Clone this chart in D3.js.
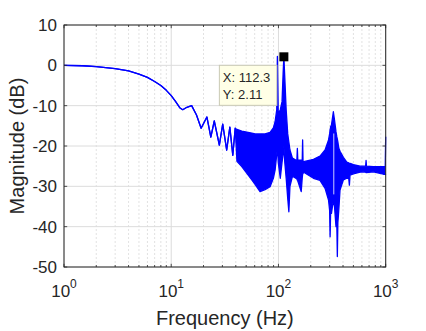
<!DOCTYPE html>
<html>
<head>
<meta charset="utf-8">
<script src="https://cdn.jsdelivr.net/npm/d3@7"></script>
<style>
    body { margin: 0; background: #ffffff; }
    text { font-family: "Liberation Sans", Arial, sans-serif; fill: #262626; }
</style>
</head>
<body>
<svg id="bode_plot" width="426" height="331"></svg>
<script>
// frequency response (Hz, dB); high == low where the trace is a single line
const freqHz = [1, 1.5, 2, 3, 4, 5, 6, 7, 8, 9, 10, 11, 12, 12.8, 14, 15.5, 17.2, 19, 21.5, 23.4, 25.2, 28.1, 30.2, 32.9,
                35.2, 37.5, 39.5, 41, 45.5, 56.4, 60.5, 67.3, 75, 83.5, 89.6, 93, 96.4, 97.2, 97.7, 98.3, 99.5, 104, 108, 110.5, 112.3,
                114.5, 118, 122, 125, 128, 135, 145, 148.5, 150, 151.5, 163, 166.5, 168, 169.5,
                172, 212, 244, 272, 293, 300, 303, 307, 312, 325, 333, 344, 350, 354, 358, 365, 375, 403,
                433.6, 452, 458.5, 465, 500, 577, 620, 650, 656, 662, 768, 952, 990, 1000];

const magHigh = [0, -0.1, -0.3, -0.8, -1.4, -2.2, -3.0, -4.0, -5.0, -6.2, -7.5, -9.0, -10.5, -11.0, -10.4, -10.0, -12.3, -15.6, -12.8, -17.8, -13.8, -19.8, -14.6, -21.0,
                 -15.3, -22.3, -15.6, -15.9, -16.3, -16.8, -17.0, -17.0, -17.0, -16.6, -15.5, -14.0, -11.0, -2.0, 2.2, -3.0, -12.0, -11.0, -9.0, -2.0, 2.11,
                 -3.0, -11.0, -17.0, -19.0, -21.0, -23.0, -23.5, -23.5, -20.6, -23.5, -23.5, -23.7, -18.5, -23.8,
                 -23.9, -23.3, -22.5, -21.0, -18.5, -17.0, -16.0, -15.2, -14.8, -11.5, -13.5, -16.5, -17.7, -18.3, -19.0, -20.5, -21.3, -22.8,
                 -24.0, -24.2, -24.3, -24.3, -24.6, -25.0, -25.0, -25.0, -23.6, -25.0, -25.1, -25.1, -25.1, -17.7];

const magLow  = [0, -0.1, -0.3, -0.8, -1.4, -2.2, -3.0, -4.0, -5.0, -6.2, -7.5, -9.0, -10.5, -11.0, -10.4, -10.0, -12.3, -15.6, -12.8, -17.8, -13.8, -19.8, -14.6, -21.0,
                 -15.3, -22.3, -15.6, -23.8, -25.1, -28.4, -29.5, -31.3, -30.8, -30.1, -28.0, -26.0, -22.0, -21.0, -20.0, -21.0, -24.0, -28.0, -24.0, -22.0, -20.0,
                 -24.0, -28.0, -33.0, -36.3, -30.0, -27.5, -28.0, -28.2, -28.5, -28.7, -31.3, -28.0, -27.0, -26.8,
                 -26.5, -28.0, -28.5, -30.5, -33.4, -36.0, -42.5, -35.5, -36.7, -33.4, -35.0, -40.0, -39.0, -47.4, -39.0, -36.0, -30.9, -28.4,
                 -28.0, -28.0, -29.7, -27.2, -26.9, -26.5, -26.4, -26.5, -26.6, -26.6, -26.4, -27.0, -27.0, -27.2];

// thin white gap inside the 325 Hz resonance
const notchFreq   = [328];
const notchTop    = [-16.9];
const notchBottom = [-32.0];

// axis ticks
const xTicks      = [1, 10, 100, 1000];
const xTickExp    = ["0", "1", "2", "3"];
const yTicks      = [10, 0, -10, -20, -30, -40, -50];

// data tip
const tipFreq = 112.3;
const tipMag  = 2.11;

const svg = d3.select("#bode_plot");

const margin = { top: 25, left: 64, right: 40.3, bottom: 64 };
const width  = 426 - margin.left - margin.right;
const height = 331 - margin.top  - margin.bottom;

const x = d3.scaleLog().domain([1, 1000]).range([margin.left, margin.left + width]);
const y = d3.scaleLinear().domain([-50, 10]).range([margin.top + height, margin.top]);

const points = freqHz.map((f, i) => ({ f: f, hi: magHigh[i], lo: magLow[i] }));

// the following code is used to draw the grid
const minorX = x.ticks().filter(t => xTicks.indexOf(t) < 0);

svg.append("g").selectAll("line").data(minorX).enter().append("line")
    .attr("x1", d => x(d)).attr("x2", d => x(d))
    .attr("y1", margin.top).attr("y2", margin.top + height)
    .attr("stroke", "#cfcfcf")
    .attr("stroke-width", 0.6)
    .attr("stroke-dasharray", "2,2");

svg.append("g").selectAll("line").data(xTicks).enter().append("line")
    .attr("x1", d => x(d)).attr("x2", d => x(d))
    .attr("y1", margin.top).attr("y2", margin.top + height)
    .attr("stroke", "#dcdcdc")
    .attr("stroke-width", 1);

svg.append("g").selectAll("line").data(yTicks).enter().append("line")
    .attr("x1", margin.left).attr("x2", margin.left + width)
    .attr("y1", d => y(d)).attr("y2", d => y(d))
    .attr("stroke", "#dcdcdc")
    .attr("stroke-width", 1);

// the following code is used to draw the response
const plot = svg.append("g");

const area = d3.area()
    .x(d => x(d.f))
    .y0(d => y(d.lo))
    .y1(d => y(d.hi));

plot.append("path").datum(points)
    .attr("d", area)
    .attr("fill", "#0000ff");

["hi", "lo"].forEach(key =>
{
    plot.append("path").datum(points)
        .attr("d", d3.line().x(d => x(d.f)).y(d => y(d[key])))
        .attr("fill", "none")
        .attr("stroke", "#0000ff")
        .attr("stroke-width", 1.3)
        .attr("stroke-linejoin", "round");
});

plot.selectAll(".notch").data(notchFreq).enter().append("line")
    .attr("class", "notch")
    .attr("x1", d => x(d)).attr("x2", d => x(d))
    .attr("y1", (d, i) => y(notchTop[i]))
    .attr("y2", (d, i) => y(notchBottom[i]))
    .attr("stroke", "#ffffff")
    .attr("stroke-width", 0.8);

// here we are rendering the axes box and ticks
svg.append("rect")
    .attr("x", margin.left).attr("y", margin.top)
    .attr("width", width).attr("height", height)
    .attr("fill", "none")
    .attr("stroke", "#262626")
    .attr("stroke-width", 1);

const ticks = svg.append("g").attr("stroke", "#262626").attr("stroke-width", 0.8);

x.ticks().forEach(t =>
{
    const len = xTicks.indexOf(t) < 0 ? 2 : 3.2;
    ticks.append("line").attr("x1", x(t)).attr("x2", x(t)).attr("y1", margin.top + height).attr("y2", margin.top + height - len);
    ticks.append("line").attr("x1", x(t)).attr("x2", x(t)).attr("y1", margin.top).attr("y2", margin.top + len);
});

yTicks.forEach(t =>
{
    ticks.append("line").attr("y1", y(t)).attr("y2", y(t)).attr("x1", margin.left).attr("x2", margin.left + 3.2);
    ticks.append("line").attr("y1", y(t)).attr("y2", y(t)).attr("x1", margin.left + width).attr("x2", margin.left + width - 3.2);
});

// tick labels
svg.append("g").selectAll("text").data(yTicks).enter().append("text")
    .attr("x", margin.left - 7)
    .attr("y", d => y(d))
    .attr("dy", "0.36em")
    .attr("text-anchor", "end")
    .attr("font-size", 17)
    .text(d => d);

const xLabels = svg.append("g").selectAll("text").data(xTicks).enter().append("text")
    .attr("x", d => x(d))
    .attr("y", margin.top + height + 30)
    .attr("text-anchor", "middle")
    .attr("font-size", 17);
xLabels.append("tspan").text("10");
xLabels.append("tspan")
    .attr("dy", -9)
    .attr("font-size", 12)
    .text((d, i) => xTickExp[i]);

// axis titles
svg.append("text")
    .attr("x", margin.left + width / 2)
    .attr("y", 325)
    .attr("text-anchor", "middle")
    .attr("font-size", 20)
    .text("Frequency (Hz)");

svg.append("text")
    .attr("transform", `translate(24,${margin.top + height / 2}) rotate(-90)`)
    .attr("text-anchor", "middle")
    .attr("font-size", 20)
    .text("Magnitude (dB)");

// the following code is used to draw the data tip
const tipX = x(tipFreq);
const tipY = y(tipMag);

svg.append("rect")
    .attr("x", tipX - 4.5).attr("y", tipY - 4.5)
    .attr("width", 9).attr("height", 9)
    .attr("fill", "#000000");

const tip = svg.append("g").attr("transform", `translate(${tipX - 64.5},${tipY + 8.5})`);

tip.append("rect")
    .attr("width", 57.5).attr("height", 40)
    .attr("fill", "#ffffe6")
    .attr("stroke", "#c9c9b5")
    .attr("stroke-width", 1);

tip.append("text").attr("x", 3.5).attr("y", 17).attr("font-size", 13).text("X: " + tipFreq);
tip.append("text").attr("x", 3.5).attr("y", 33.5).attr("font-size", 13).text("Y: " + tipMag);
</script>
</body>
</html>
